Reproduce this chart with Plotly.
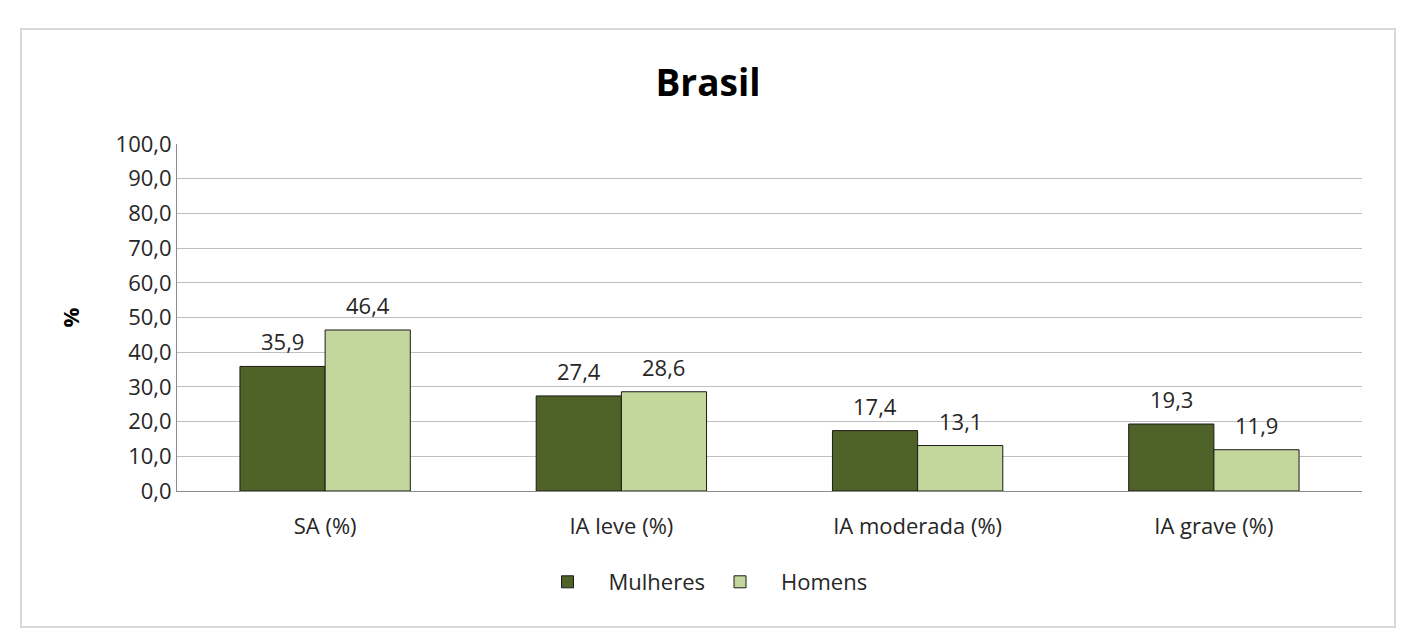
import plotly.graph_objects as go

categories = ["SA (%)", "IA leve (%)", "IA moderada (%)", "IA grave (%)"]
mulheres = [35.9, 27.4, 17.4, 19.3]
homens = [46.4, 28.6, 13.1, 11.9]
series_names = ["Mulheres", "Homens"]
tick_vals = [0, 10, 20, 30, 40, 50, 60, 70, 80, 90, 100]

FONT = "Open Sans"
TXT = "#262626"
W, H = 1411, 636
L, R, T, B = 169, 57, 136, 153
PW, PH = W - L - R, H - T - B
BARGAP = 0.425
bar_px = PW / len(categories) * (1 - BARGAP) / 2

fig = go.Figure()
fig.add_trace(go.Bar(
    x=categories, y=mulheres, name="\u2002" + series_names[0],
    marker=dict(color="#4F6228", line=dict(color="#1a1a1a", width=1)),
))
fig.add_trace(go.Bar(
    x=categories, y=homens, name="\u2002" + series_names[1],
    marker=dict(color="#C3D69B", line=dict(color="#1a1a1a", width=1)),
))

for vals, sh in ((mulheres, -bar_px / 2), (homens, bar_px / 2)):
    for c, v in zip(categories, vals):
        fig.add_annotation(x=c, y=v, xref="x", yref="y", text=f"{v:.1f}".replace(".", ","),
                           showarrow=False, xshift=sh, yshift=25, yanchor="middle",
                           font=dict(size=22, family=FONT, color=TXT))

fig.update_layout(
    width=W, height=H,
    margin=dict(l=L, r=R, t=T, b=B),
    paper_bgcolor="white", plot_bgcolor="white",
    separators=",.",
    barmode="group", bargap=BARGAP, bargroupgap=0,
    font=dict(family=FONT, size=22, color=TXT),
    title=dict(text="<b>Brasil</b>", x=(708 - 8) / W, xanchor="center", y=1 - 75 / H, yanchor="middle",
               font=dict(size=37, family=FONT, color="black")),
    showlegend=True,
    legend=dict(orientation="h", x=(705 - 177) / PW, xanchor="center", y=(491 - 582) / PH, yanchor="middle",
                font=dict(size=22, family=FONT, color=TXT), itemwidth=50, traceorder="normal"),
)
fig.update_yaxes(
    range=[0, 100], tickvals=tick_vals, tickformat=".1f",
    showgrid=True, gridcolor="#c0c0c0", gridwidth=1,
    showline=True, linecolor="#8c8c8c", linewidth=1,
    ticks="", tickfont=dict(size=22, family=FONT, color=TXT),
    title=dict(text="<b>%</b>", font=dict(size=22, family=FONT, color="black"), standoff=29),
    zeroline=False,
)
fig.update_xaxes(
    showline=True, linecolor="#8c8c8c", linewidth=1,
    ticks="", ticklabelstandoff=16,
    tickfont=dict(size=22, family=FONT, color=TXT),
)
fig.add_shape(type="rect", xref="paper", yref="paper",
              x0=(21 - 177) / PW, x1=(1395 - 177) / PW,
              y0=(491 - 627) / PH, y1=(491 - 29) / PH,
              line=dict(color="#d9d9d9", width=2), fillcolor="rgba(0,0,0,0)", layer="below")

fig.write_html("out.html")
